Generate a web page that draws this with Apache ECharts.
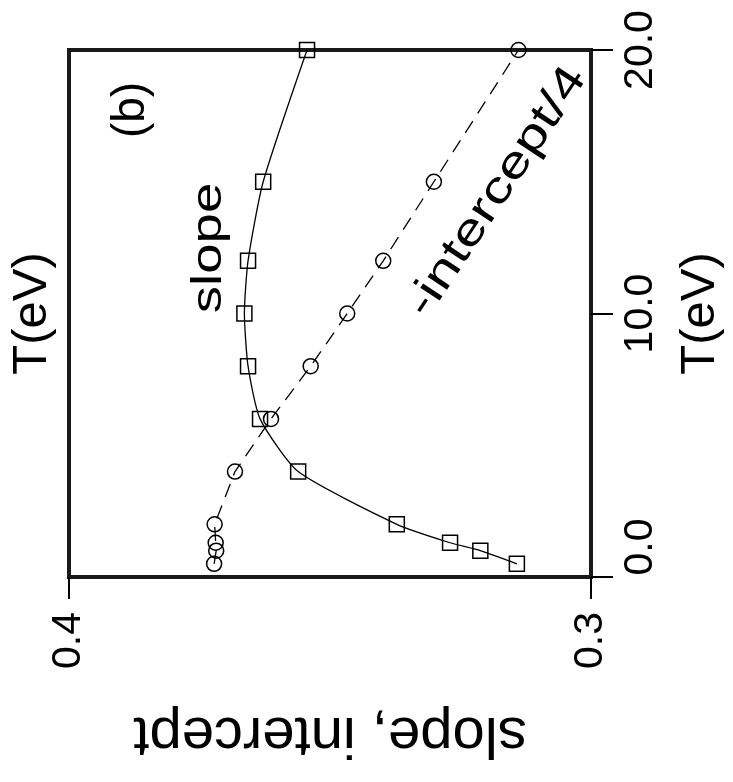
<!DOCTYPE html>
<html>
<head>
<meta charset="utf-8">
<script src="https://cdn.jsdelivr.net/npm/echarts@6/dist/echarts.min.js"></script>
<style>
  html, body { margin: 0; padding: 0; background: #fff; }
  #app { width: 733px; height: 782px; }
</style>
</head>
<body>
<div id="app"></div>
<script>
var FONT = '"Liberation Sans", Arial, sans-serif';

// temperature T(eV) for every point
var temps = [0.5, 1.0, 1.3, 2.0, 4.0, 6.0, 8.0, 10.0, 12.0, 15.0, 20.0];
// slope (squares, solid line)
var slope = [0.3142, 0.3212, 0.3270, 0.3372, 0.3561, 0.3634, 0.3657, 0.3664, 0.3657, 0.3628, 0.3544];
// -intercept/4 (circles, dashed line)
var interceptQ = [0.3722, 0.3718, 0.3719, 0.3721, 0.3682, 0.3613, 0.3537, 0.3467, 0.3398, 0.3301, 0.3139];

var valueTicks = ['0.3', '0.4'];
var tempTicks = ['0.0', '10.0', '20.0'];

function pairs(vals) {
  var out = [];
  for (var i = 0; i < temps.length; i++) {
    out.push([vals[i], temps[i]]);
  }
  return out;
}

window.onload = function() {
  var myChart = echarts.init(document.getElementById('app'));

  myChart.setOption({
    backgroundColor: '#fff',
    animation: false,
    textStyle: { fontFamily: FONT },
    grid: {
      left: 68,
      right: 136,
      top: 50,
      bottom: 205,
      show: true,
      borderColor: '#1a1a1a',
      borderWidth: 4,
      containLabel: false
    },
    xAxis: {
      type: 'value',
      min: 0.3,
      max: 0.4,
      interval: 0.1,
      inverse: true,
      name: 'slope, intercept',
      nameLocation: 'middle',
      nameRotate: 180,
      nameGap: 128,
      nameTextStyle: { fontSize: 58, color: '#000', fontFamily: FONT },
      axisLine: { show: false },
      axisTick: { show: true, inside: false, length: 22, lineStyle: { color: '#000', width: 2 } },
      axisLabel: {
        rotate: 90,
        margin: 35,
        fontSize: 41,
        color: '#000',
        fontFamily: FONT,
        formatter: function(v) {
          return valueTicks[Math.round((v - 0.3) * 10)];
        }
      },
      splitLine: { show: false }
    },
    yAxis: [
      {
        type: 'value',
        position: 'right',
        min: 0,
        max: 20,
        interval: 10,
        name: 'T(eV)',
        nameLocation: 'middle',
        nameRotate: 90,
        nameGap: 85,
        nameTextStyle: { fontSize: 49, color: '#000', fontFamily: FONT },
        axisLine: { show: false },
        axisTick: { show: true, inside: false, length: 22, lineStyle: { color: '#000', width: 2 } },
        axisLabel: {
          rotate: 90,
          margin: 29,
          fontSize: 41,
          color: '#000',
          fontFamily: FONT,
          formatter: function(v) {
            var s = tempTicks[Math.round(v / 10)];
            return v === 0 ? '{s|' + s + '}' : s;
          },
          rich: {
            s: { fontSize: 41, color: '#000', fontFamily: FONT, padding: [0, 0, 0, 60] }
          }
        },
        splitLine: { show: false }
      },
      {
        type: 'value',
        position: 'left',
        min: 0,
        max: 20,
        name: 'T(eV)',
        nameLocation: 'middle',
        nameRotate: 90,
        nameGap: 12,
        nameTextStyle: { fontSize: 49, color: '#000', fontFamily: FONT },
        axisLine: { show: false },
        axisTick: { show: false },
        axisLabel: { show: false },
        splitLine: { show: false }
      }
    ],
    graphic: [
      {
        type: 'text',
        x: 131, y: 110,
        rotation: Math.PI / 2,
        style: { text: '(b)', font: '46px ' + FONT, fill: '#000', align: 'center', verticalAlign: 'middle' }
      },
      {
        type: 'text',
        x: 209, y: 248,
        rotation: Math.PI / 2,
        scaleX: 1.3,
        style: { text: 'slope', font: '42px ' + FONT, fill: '#000', align: 'center', verticalAlign: 'middle' }
      },
      {
        type: 'text',
        x: 497, y: 192,
        rotation: 56.5 * Math.PI / 180,
        scaleX: 1.32,
        style: { text: '-intercept/4', font: '44px ' + FONT, fill: '#000', align: 'center', verticalAlign: 'middle' }
      }
    ],
    series: [
      {
        name: 'slope',
        type: 'line',
        data: pairs(slope),
        smooth: 0.2,
        symbol: 'rect',
        symbolSize: 15,
        itemStyle: { color: 'transparent', borderColor: '#000', borderWidth: 1.5 },
        lineStyle: { color: '#000', width: 1.3 },
        emphasis: { disabled: true },
        z: 3
      },
      {
        name: '-intercept/4',
        type: 'line',
        data: pairs(interceptQ),
        symbol: 'circle',
        symbolSize: 15,
        itemStyle: { color: 'transparent', borderColor: '#000', borderWidth: 1.5 },
        lineStyle: { color: '#000', width: 1.3, type: [14, 9] },
        emphasis: { disabled: true },
        z: 2
      }
    ]
  });
};
</script>
</body>
</html>
